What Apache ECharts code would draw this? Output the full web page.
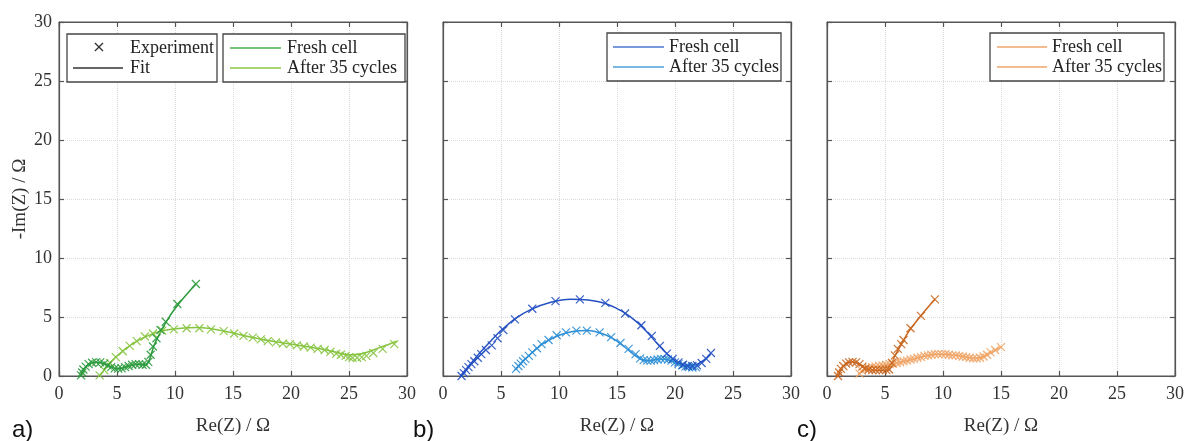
<!DOCTYPE html>
<html><head><meta charset="utf-8">
<script src="https://cdn.jsdelivr.net/npm/echarts@6/dist/echarts.min.js"></script>
<style>html,body{margin:0;padding:0;background:#fff}#c{width:1188px;height:441px}</style>
</head><body><div id="c"></div>
<script>
// ---- text ----
const panelLetters = ['a)', 'b)', 'c)'];
const seriesNames = ['Fresh cell', 'After 35 cycles'];
const keyNames = ['Experiment', 'Fit'];
const xName = 'Re(Z) / Ω';
const yName = '-Im(Z) / Ω';
const axisMin = 0, axisMax = 30, axisStep = 5;

// ---- panel a (green) ----
const freshA_exp = [[1.9,0.05],[2.0,0.3],[2.1,0.55],[2.3,0.8],[2.55,1.0],[2.85,1.12],[3.2,1.18],[3.55,1.15],[3.9,1.05],[4.2,0.9],[4.5,0.75],[4.8,0.65],[5.1,0.62],[5.4,0.65],[5.7,0.75],[6.0,0.85],[6.3,0.95],[6.6,1.0],[6.9,1.0],[7.2,0.95],[7.5,0.95],[7.7,1.2],[7.9,1.8],[8.1,2.5],[8.4,3.2],[8.75,3.9],[9.2,4.6],[10.2,6.1],[11.8,7.8]];
const freshA_fit = [[1.9,0],[2.1,0.5],[2.5,0.95],[3.1,1.17],[3.7,1.1],[4.3,0.85],[4.9,0.62],[5.5,0.68],[6.2,0.9],[6.9,1.0],[7.5,0.95],[7.8,1.4],[8.2,2.6],[8.8,3.8],[9.3,4.7],[10.3,6.1],[11.8,7.8]];
const agedA_exp = [[3.5,0.05],[3.9,0.5],[4.4,1.1],[4.9,1.6],[5.5,2.1],[6.1,2.55],[6.7,2.95],[7.4,3.35],[8.1,3.6],[8.9,3.85],[9.9,3.95],[11.0,4.05],[12.1,4.05],[13.1,3.95],[14.2,3.8],[15.1,3.6],[15.9,3.4],[16.7,3.25],[17.4,3.1],[18.0,2.95],[18.7,2.85],[19.3,2.75],[19.9,2.7],[20.5,2.6],[21.1,2.5],[21.7,2.4],[22.3,2.3],[22.9,2.2],[23.4,2.05],[23.9,1.9],[24.3,1.8],[24.7,1.7],[25.0,1.6],[25.3,1.55],[25.7,1.55],[26.1,1.6],[26.5,1.7],[27.1,1.95],[27.9,2.3],[28.9,2.7]];
const agedA_fit = [[3.5,0],[4.2,0.9],[5.0,1.7],[6.0,2.5],[7.0,3.1],[8.0,3.55],[9.0,3.85],[10.5,4.05],[12.0,4.1],[13.5,3.95],[15.0,3.65],[16.5,3.3],[18.0,3.0],[19.5,2.78],[21.0,2.55],[22.5,2.3],[23.7,2.05],[24.6,1.85],[25.4,1.8],[26.2,1.9],[27.2,2.25],[28.2,2.6],[29.1,2.95]];

// ---- panel b (blue) ----
const freshB_exp = [[1.6,0.0],[1.8,0.25],[2.0,0.5],[2.2,0.75],[2.45,1.0],[2.7,1.25],[3.0,1.55],[3.3,1.85],[3.7,2.2],[4.2,2.6],[4.7,3.2],[5.2,3.9],[6.2,4.8],[7.7,5.7],[9.7,6.35],[11.8,6.5],[14.0,6.2],[15.7,5.3],[17.1,4.3],[18.0,3.4],[18.7,2.55],[19.3,1.9],[19.8,1.45],[20.3,1.15],[20.7,0.95],[21.1,0.85],[21.5,0.85],[21.9,0.9],[22.3,1.1],[22.7,1.45],[23.1,1.95]];
const freshB_fit = [[1.5,0],[2.0,0.6],[2.6,1.3],[3.3,2.1],[4.1,2.95],[5.0,3.85],[6.2,4.85],[7.6,5.65],[9.3,6.25],[11.0,6.5],[12.5,6.45],[14.0,6.15],[15.5,5.45],[16.8,4.5],[17.8,3.5],[18.6,2.6],[19.4,1.8],[20.2,1.2],[21.0,0.9],[21.8,0.95],[22.5,1.35],[23.1,1.9]];
const agedB_exp = [[6.3,0.6],[6.5,0.85],[6.7,1.05],[6.9,1.25],[7.1,1.45],[7.4,1.7],[7.7,2.0],[8.1,2.35],[8.5,2.7],[9.1,3.05],[9.8,3.45],[10.6,3.7],[11.5,3.85],[12.4,3.85],[13.5,3.7],[14.5,3.3],[15.3,2.8],[16.0,2.3],[16.6,1.85],[17.0,1.5],[17.3,1.35],[17.6,1.3],[17.9,1.3],[18.2,1.35],[18.5,1.4],[18.8,1.45],[19.1,1.45],[19.4,1.4],[19.7,1.3],[20.0,1.15],[20.3,1.0],[20.6,0.9],[20.9,0.8],[21.2,0.75],[21.5,0.72],[21.8,0.75]];
const agedB_fit = [[6.3,0.6],[7.0,1.35],[7.8,2.1],[8.8,2.85],[10.0,3.45],[11.3,3.8],[12.5,3.85],[13.7,3.6],[14.7,3.15],[15.6,2.5],[16.4,1.85],[17.1,1.4],[17.8,1.3],[18.6,1.45],[19.3,1.4],[20.0,1.15],[20.8,0.85],[21.6,0.72]];

// ---- panel c (orange) ----
const freshC_exp = [[0.95,0.0],[1.05,0.3],[1.2,0.6],[1.4,0.85],[1.65,1.05],[1.9,1.15],[2.2,1.2],[2.5,1.15],[2.8,1.0],[3.05,0.8],[3.3,0.65],[3.6,0.55],[3.9,0.5],[4.2,0.5],[4.5,0.5],[4.8,0.5],[5.1,0.52],[5.35,0.55],[5.6,1.1],[5.85,1.75],[6.1,2.3],[6.4,2.7],[6.6,3.05],[7.2,4.05],[8.1,5.1],[9.3,6.5]];
const freshC_fit = [[0.95,0],[1.2,0.6],[1.6,1.0],[2.1,1.18],[2.6,1.1],[3.1,0.8],[3.6,0.55],[4.3,0.47],[5.0,0.48],[5.4,0.55],[5.8,1.6],[6.3,2.5],[7.0,3.7],[8.0,5.0],[9.3,6.5]];
const agedC_exp = [[2.8,0.2],[3.0,0.45],[3.3,0.6],[3.6,0.7],[3.9,0.75],[4.2,0.8],[4.5,0.85],[4.8,0.9],[5.1,0.95],[5.4,1.0],[5.7,1.05],[6.0,1.1],[6.3,1.15],[6.6,1.25],[6.9,1.3],[7.2,1.4],[7.5,1.45],[7.8,1.55],[8.1,1.6],[8.4,1.7],[8.7,1.75],[9.0,1.8],[9.3,1.85],[9.6,1.85],[9.9,1.85],[10.2,1.85],[10.5,1.8],[10.8,1.75],[11.1,1.75],[11.4,1.7],[11.7,1.65],[12.0,1.6],[12.3,1.55],[12.6,1.5],[12.9,1.5],[13.2,1.55],[13.5,1.65],[13.8,1.8],[14.1,2.0],[14.5,2.2],[15.0,2.45]];
const agedC_fit = [[2.8,0.2],[3.5,0.65],[4.5,0.85],[5.5,1.0],[6.5,1.2],[7.5,1.45],[8.5,1.7],[9.5,1.85],[10.5,1.82],[11.5,1.7],[12.5,1.52],[13.2,1.55],[14.0,1.9],[15.0,2.45]];

// ---- styling ----
const SERIF = '"Liberation Serif", "DejaVu Serif", serif';
const panels = [
  { left: 59,  fresh: [freshA_exp, freshA_fit], aged: [agedA_exp, agedA_fit], colors: ['#2b9a3c', '#86c440'], legendColors: ['#4cae50', '#8dc646'] },
  { left: 443, fresh: [freshB_exp, freshB_fit], aged: [agedB_exp, agedB_fit], colors: ['#2350c2', '#2d8fd5'], legendColors: ['#4a78cf', '#4f9fdc'] },
  { left: 827, fresh: [freshC_exp, freshC_fit], aged: [agedC_exp, agedC_fit], colors: ['#c9661f', '#f0a466'], legendColors: ['#f0a468', '#f0a468'] }
];
const GRID_TOP = 22, GRID_W = 348, GRID_H = 362;
const CROSS = 'path://M0,0L10,10M10,0L0,10';
const AXC = '#555';

const grid = [], xAxis = [], yAxis = [], series = [];
panels.forEach((p, i) => {
  grid.push({ left: p.left, top: GRID_TOP, width: GRID_W, height: GRID_H, show: true, borderColor: AXC, borderWidth: 1, backgroundColor: '#fff' });
  const common = { gridIndex: i, type: 'value', min: axisMin, max: axisMax, interval: axisStep,
    axisLine: { show: true, onZero: false, lineStyle: { color: AXC, width: 1.2 } },
    axisTick: { show: true, inside: true, length: 5, lineStyle: { color: AXC, width: 1.2 } } };
  xAxis.push(Object.assign({}, common, { position: 'bottom',
    name: xName, nameLocation: 'middle', nameGap: 41, nameTextStyle: { fontFamily: SERIF, fontSize: 19, color: '#333' },
    axisLabel: { fontFamily: SERIF, fontSize: 18, color: '#333', margin: 9 },
    splitLine: { show: true, lineStyle: { color: '#d9d9d9', type: 'dotted', width: 1 } } }));
  xAxis.push(Object.assign({}, common, { position: 'top', axisLabel: { show: false }, splitLine: { show: false } }));
  yAxis.push(Object.assign({}, common, { position: 'left',
    name: i === 0 ? yName : '', nameLocation: 'middle', nameGap: 29, nameTextStyle: { fontFamily: SERIF, fontSize: 19, color: '#333' },
    axisLabel: { show: i === 0, fontFamily: SERIF, fontSize: 18, color: '#333', margin: 7 },
    splitLine: { show: true, lineStyle: { color: '#d9d9d9', type: 'dotted', width: 1 } } }));
  yAxis.push(Object.assign({}, common, { position: 'right', axisLabel: { show: false }, splitLine: { show: false } }));

  [[p.aged, p.colors[1], seriesNames[1]], [p.fresh, p.colors[0], seriesNames[0]]].forEach(([d, col, nm]) => {
    series.push({ type: 'line', name: nm + ' fit ' + i, xAxisIndex: 2 * i, yAxisIndex: 2 * i, data: d[1],
      smooth: 0.3, showSymbol: false, lineStyle: { color: col, width: 1.5 }, clip: false, silent: true, z: 3 });
    series.push({ type: 'scatter', name: nm + ' exp ' + i, xAxisIndex: 2 * i, yAxisIndex: 2 * i, data: d[0],
      symbol: CROSS, symbolSize: 8, clip: false, silent: true,
      itemStyle: { color: 'none', borderColor: col, borderWidth: 1.2, opacity: 0.9 }, z: 4 });
  });
});

// ---- legends and panel letters (graphic) ----
const graphic = [];
function box(x, y, w, h) {
  graphic.push({ type: 'rect', shape: { x: x, y: y, width: w, height: h }, style: { fill: '#fff', stroke: '#444', lineWidth: 1.3 }, z: 100 });
}
function lineKey(x1, x2, y, col) {
  graphic.push({ type: 'line', shape: { x1: x1, y1: y, x2: x2, y2: y }, style: { stroke: col, lineWidth: 1.6 }, z: 101 });
}
function label(x, y, t) {
  graphic.push({ type: 'text', x: x, y: y, style: { text: t, font: '18px ' + SERIF, fill: '#222', align: 'left', verticalAlign: 'middle' }, z: 101 });
}
// panel a, key box
box(67, 34, 150, 48);
graphic.push({ type: 'text', x: 99, y: 48, style: { text: '×', font: '16px "DejaVu Sans", sans-serif', fill: '#333', align: 'center', verticalAlign: 'middle' }, z: 101 });
label(130, 48, keyNames[0]);
lineKey(73, 123, 68, '#333');
label(130, 68, keyNames[1]);
// series legends
const legBoxes = [[223, 34, 182, 48, 230, 281, 287], [607, 33, 174, 48, 613, 664, 669], [990, 33, 174, 48, 997, 1047, 1052]];
legBoxes.forEach((b, i) => {
  box(b[0], b[1], b[2], b[3]);
  lineKey(b[4], b[5], b[1] + 14, panels[i].legendColors[0]);
  label(b[6], b[1] + 14, seriesNames[0]);
  lineKey(b[4], b[5], b[1] + 34, panels[i].legendColors[1]);
  label(b[6], b[1] + 34, seriesNames[1]);
});
const letterX = [12, 413, 797];
panelLetters.forEach((t, i) => {
  graphic.push({ type: 'text', x: letterX[i], y: 430, style: { text: t, font: '24px "Liberation Sans", "Open Sans", sans-serif', fill: '#111', align: 'left', verticalAlign: 'middle' }, z: 101 });
});

const chart = echarts.init(document.getElementById('c'), null, { renderer: 'canvas' });
chart.setOption({ animation: false, backgroundColor: '#fff', grid, xAxis, yAxis, series, graphic });
</script>
</body></html>
